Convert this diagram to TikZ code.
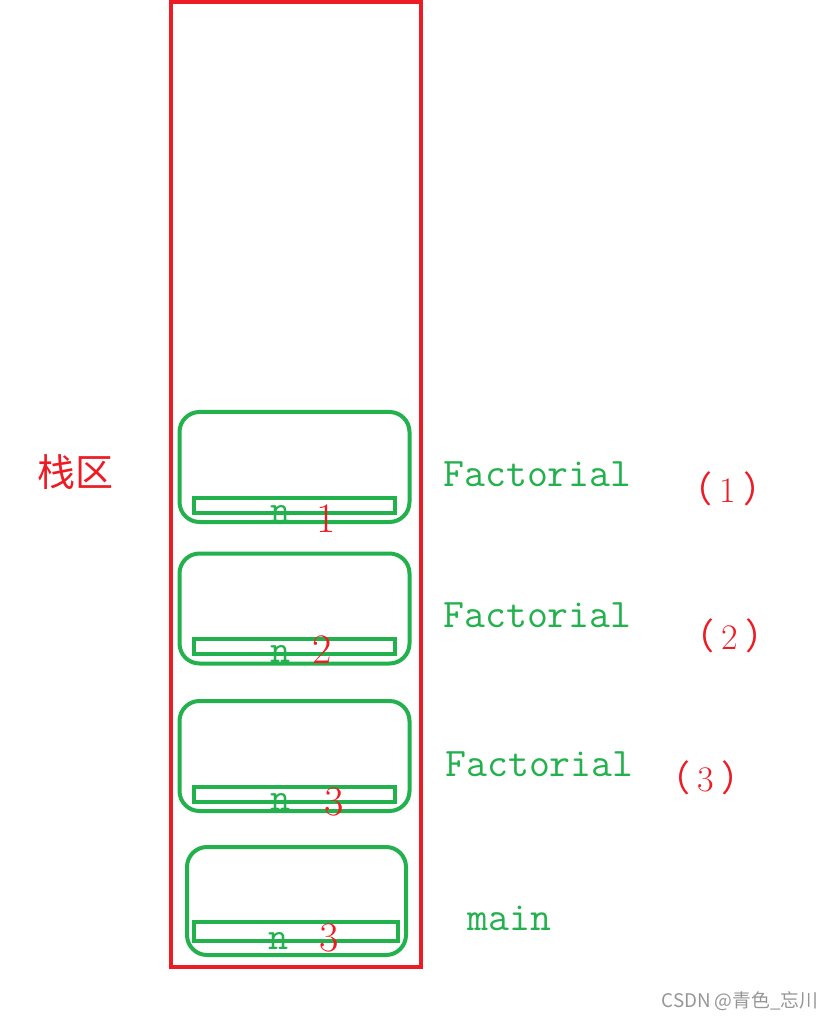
\documentclass[tikz,border=0pt]{standalone}
\usepackage{fontspec}
\newfontfamily\cjk{Noto Sans CJK SC}
\usepackage{xcolor}
\definecolor{stackred}{RGB}{237,28,36}
\definecolor{framegreen}{RGB}{34,177,76}
\definecolor{markgray}{RGB}{150,150,150}
\usepackage{tikz}
\usetikzlibrary{positioning}

\begin{document}
\begin{tikzpicture}[x=0.5pt, y=-0.5pt,
  stackbox/.style={draw=stackred, line width=2pt, minimum width=125pt, minimum height=482.5pt, inner sep=0pt},
  framebox/.style={draw=framegreen, line width=2pt, rounded corners=10pt, minimum width=115pt, minimum height=55pt, inner sep=0pt},
  slotbox/.style={draw=framegreen, line width=2pt, minimum width=100.5pt, minimum height=7.5pt, inner sep=0pt},
  fnlabel/.style={text=framegreen, font=\fontsize{20.3}{21}\selectfont\ttfamily, anchor=base west, inner sep=0pt},
  varlabel/.style={text=framegreen, font=\fontsize{19.5}{20}\selectfont\ttfamily, anchor=base, inner sep=0pt},
  vallabel/.style={text=stackred, font=\fontsize{21}{22}\selectfont, anchor=base, inner sep=0pt},
  orderlabel/.style={text=stackred, font=\fontsize{18}{19}\selectfont, inner sep=0pt}]
  \useasboundingbox (0,0) rectangle (834,1020);
  % stack area
  \node[stackbox] (stack) at (296,484.5) {};
  \node[text=stackred, font=\cjk\fontsize{19}{20}\selectfont, inner sep=0pt] (area) at (75,472) {栈区};
  % Factorial frames
  \foreach \i/\fy/\sy/\vy/\ny/\lx/\ly/\ox/\oy in {1/467/505.5/532/522/443/486/728/489, 2/608.5/646/663/662/443/627/730/636, 3/756/794.5/815/810/445/776/706/778} {
    \node[framebox] (frame\i) at (294.5,\fy) {};
    \node[slotbox] (slot\i) at (294.5,\sy) {};
    \node[varlabel] (var\i) at (281,\ny) {n};
    \node[fnlabel] (name\i) at (\lx,\ly) {Factorial};
    \node[orderlabel] (order\i) at (\ox,\oy) {{\cjk （}\hspace{3.5pt}\i\hspace{3.5pt}{\cjk ）}};
  }
  \node[vallabel] (val1) at (326,532) {1};
  \node[vallabel] (val2) at (322,663) {2};
  \node[vallabel] (val3) at (334,815) {3};
  % main frame
  \node[framebox, minimum width=109.5pt, minimum height=54pt] (frame4) at (296.5,901) {};
  \node[slotbox, minimum width=102pt, minimum height=9.5pt] (slot4) at (296,931.5) {};
  \node[varlabel] (var4) at (279,949) {n};
  \node[vallabel] (val4) at (329.5,951) {3};
  \node[fnlabel] (name4) at (467,930) {main};
  % watermark
  \node[text=markgray, font=\cjk\fontsize{9.4}{10}\selectfont, inner sep=0pt] (mark) at (740,1001) {CSDN @青色\_忘川};
\end{tikzpicture}
\end{document}
